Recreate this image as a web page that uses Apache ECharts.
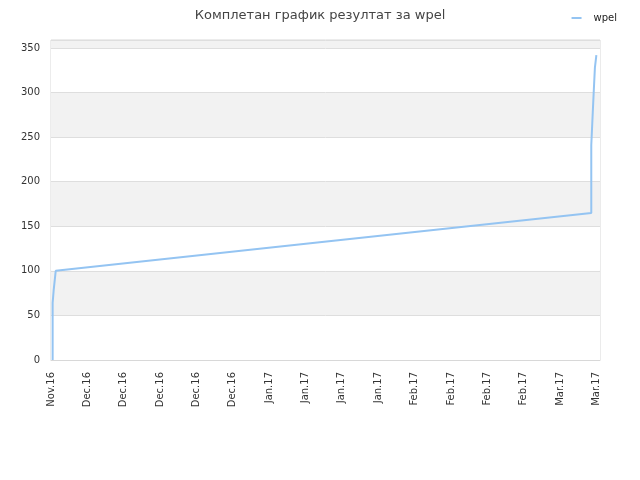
<!DOCTYPE html>
<html>
<head>
<meta charset="utf-8">
<script src="https://cdn.jsdelivr.net/npm/echarts@6/dist/echarts.min.js"></script>
<style>
  html, body { margin: 0; padding: 0; background: #fff; }
  #chart { width: 640px; height: 480px; }
</style>
</head>
<body>
<div id="chart"></div>
<script>
// tick labels along the bottom, one per step of the x axis
const tickLabels = ["Nov.16", "Dec.16", "Dec.16", "Dec.16", "Dec.16", "Dec.16",
  "Jan.17", "Jan.17", "Jan.17", "Jan.17", "Feb.17", "Feb.17", "Feb.17", "Feb.17",
  "Mar.17", "Mar.17"];

// position of each point, in tick steps from the first label
const progress = [0.045, 0.045, 0.075, 0.13, 7.58, 14.86, 14.86, 14.9,
  14.9, 14.93, 14.93, 14.96, 14.96, 15.0];
// cumulative result at each point
const results = [0, 64, 79, 100, 133, 165, 241, 241, 277, 277, 303, 303,
  328, 342];

const seriesName = "wpel";

const points = progress.map((x, i) => [x, results[i]]);

const chart = echarts.init(document.getElementById("chart"));
chart.setOption({
  animation: false,
  textStyle: { fontFamily: "DejaVu Sans" },
  title: {
    text: "Комплетан график резултат за wpel",
    left: "center",
    top: 4,
    textStyle: { fontSize: 13, fontWeight: "normal", color: "#444", fontFamily: "DejaVu Sans" }
  },
  legend: {
    right: 18,
    top: 8,
    icon: "rect",
    itemWidth: 10,
    itemHeight: 2,
    textStyle: { fontSize: 10, color: "#222", padding: [0, 0, 0, 7], fontFamily: "DejaVu Sans" },
    data: [seriesName]
  },
  grid: {
    left: 51,
    right: 40,
    top: 40,
    bottom: 120,
    show: true,
    borderColor: "#d8d8d8",
    borderWidth: 1
  },
  xAxis: {
    type: "value",
    min: 0,
    max: 15.1,
    interval: 1,
    axisLine: { show: true, lineStyle: { color: "#d8d8d8" } },
    axisTick: { show: false },
    splitLine: { show: false },
    axisLabel: {
      rotate: 90,
      fontSize: 10,
      color: "#333",
      margin: 12,
      showMaxLabel: false,
      fontFamily: "DejaVu Sans",
      formatter: v => tickLabels[Math.round(v)] || ""
    }
  },
  yAxis: {
    type: "value",
    min: 0,
    max: 359,
    interval: 50,
    axisLine: { show: false },
    axisTick: { show: false },
    axisLabel: { fontSize: 10, color: "#333", margin: 11, showMaxLabel: false, fontFamily: "DejaVu Sans" },
    splitLine: { show: true, lineStyle: { color: "#dedede" } },
    splitArea: { show: true, areaStyle: { color: ["#ffffff", "#f2f2f2"] } }
  },
  series: [{
    name: seriesName,
    type: "line",
    data: points,
    showSymbol: false,
    symbol: "none",
    lineStyle: { color: "#94c4f2", width: 2 },
    itemStyle: { color: "#94c4f2" }
  }]
});
</script>
</body>
</html>
